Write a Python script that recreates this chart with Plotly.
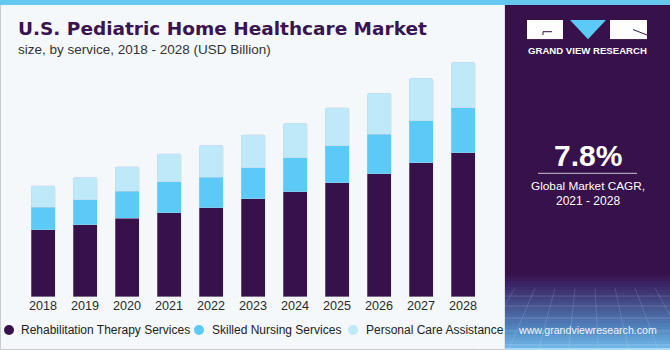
import base64
import plotly.graph_objects as go

# ---------------- data ----------------
years = ["2018", "2019", "2020", "2021", "2022", "2023", "2024", "2025", "2026", "2027", "2028"]
rehab = [3.34, 3.60, 3.92, 4.20, 4.45, 4.89, 5.24, 5.70, 6.14, 6.70, 7.19]
nursing = [1.14, 1.24, 1.35, 1.55, 1.52, 1.57, 1.70, 1.84, 1.99, 2.10, 2.25]
personal = [1.07, 1.14, 1.23, 1.40, 1.60, 1.64, 1.74, 1.90, 2.05, 2.12, 2.29]
series_names = ["Rehabilitation Therapy Services", "Skilled Nursing Services", "Personal Care Assistance"]
colors = ["#37114A", "#5BCAF6", "#BEE9F9"]
cagr_text = "7.8%"
cagr_label = "Global Market CAGR,"
cagr_period = "2021 - 2028"

W, H = 670, 350


def px(x):
    return x / W


def py(y):
    return 1 - y / H


FONT = "Liberation Sans, Arial, sans-serif"
BG = "#F4F8FB"
PURPLE = "#37114A"

fig = go.Figure()
for vals, name, col in zip([rehab, nursing, personal], series_names, colors):
    fig.add_trace(go.Bar(
        x=years, y=vals, name=name, marker_color=col,
        marker_line=dict(width=0.6, color="rgba(200,205,225,0.55)"),
        showlegend=False, hoverinfo="x+y+name",
    ))

shapes = []
annotations = []

# outer border of left area
shapes.append(dict(type="rect", xref="paper", yref="paper", x0=px(0.5), x1=px(505), y0=py(349.5), y1=py(0),
                   line=dict(color="#C9CBCF", width=1), fillcolor=BG, layer="below"))

# right panel
shapes.append(dict(type="rect", xref="paper", yref="paper", x0=px(505), x1=1, y0=0, y1=1,
                   line=dict(width=0), fillcolor=PURPLE, layer="below"))


# gradient at bottom of the panel
def lerp(c1, c2, t):
    a = [int(c1[i:i + 2], 16) for i in (1, 3, 5)]
    b = [int(c2[i:i + 2], 16) for i in (1, 3, 5)]
    return "rgb(%d,%d,%d)" % tuple(round(a[k] + (b[k] - a[k]) * t) for k in range(3))


stops = [(272, "#37114A"), (286, "#3C2A6C"), (305, "#46558F"), (325, "#5080BC"), (348, "#72BCEB")]
y = 272
step = 3
while y < 348:
    for (y0, c0), (y1, c1) in zip(stops[:-1], stops[1:]):
        if y0 <= y < y1:
            col = lerp(c0, c1, (y - y0) / (y1 - y0))
            break
    shapes.append(dict(type="rect", xref="paper", yref="paper", x0=px(505), x1=1, y0=py(y + step), y1=py(y),
                       line=dict(width=0), fillcolor=col, layer="below"))
    y += step
# faint grid lines in the gradient
for gy in [296, 306, 318, 331, 345]:
    shapes.append(dict(type="line", xref="paper", yref="paper", x0=px(505), x1=1, y0=py(gy), y1=py(gy),
                       line=dict(color="rgba(255,255,255,0.16)", width=1), layer="below"))
for gx in [515, 535, 555, 575, 595, 615, 635, 655]:
    shapes.append(dict(type="line", xref="paper", yref="paper", x0=px(gx), x1=px(gx + (gx - 588) * 0.5),
                       y0=py(288), y1=py(350),
                       line=dict(color="rgba(255,255,255,0.14)", width=1), layer="below"))
shapes.append(dict(type="rect", xref="paper", yref="paper", x0=px(505), x1=1, y0=0, y1=py(348),
                   line=dict(width=0), fillcolor="#A8D8F2", layer="below"))

# top strip
shapes.append(dict(type="rect", xref="paper", yref="paper", x0=0, x1=1, y0=py(5), y1=1,
                   line=dict(width=0), fillcolor="#66C8EF", layer="below"))

# logo as an inline SVG image
logo_svg = (
    '<svg xmlns="http://www.w3.org/2000/svg" width="120" height="19.3" viewBox="0 0 120 19.3">'
    '<rect x="0" y="0" width="36" height="19.3" fill="#FFFFFF"/>'
    '<polygon points="43,0 79,0 61,19.3" fill="#5BCAF6"/>'
    '<rect x="83" y="0" width="37" height="19.3" fill="#FFFFFF"/>'
    '<polyline points="16,15 16,11.7 25,11.7" fill="none" stroke="#37114A" stroke-width="1"/>'
    '<line x1="106" y1="9.5" x2="120" y2="15" stroke="#37114A" stroke-width="1"/>'
    '</svg>'
)
logo_src = "data:image/svg+xml;base64," + base64.b64encode(logo_svg.encode()).decode()

# line under CAGR
shapes.append(dict(type="line", xref="paper", yref="paper", x0=px(538), x1=px(637), y0=py(173.3), y1=py(173.3),
                   line=dict(color="rgba(255,255,255,0.75)", width=1)))

# legend (custom)
leg_marker_x = [9, 199, 353]
leg_text_x = [19, 210, 364]
for mx, tx, name, col in zip(leg_marker_x, leg_text_x, series_names, colors):
    shapes.append(dict(type="circle", xref="paper", yref="paper", x0=px(mx - 5), x1=px(mx + 5),
                       y0=py(330 + 5), y1=py(330 - 5), line=dict(width=0), fillcolor=col))
    annotations.append(dict(text=name, x=px(tx), y=py(330), xref="paper", yref="paper", xanchor="left",
                            yanchor="middle", showarrow=False, font=dict(family=FONT, size=12, color="#222222")))

# titles
annotations.append(dict(text="<b>U.S. Pediatric Home Healthcare Market</b>", x=px(16), y=py(29), xref="paper",
                        yref="paper", xanchor="left", yanchor="middle", showarrow=False,
                        font=dict(family="DejaVu Sans", size=18.5, color="#3A1450")))
annotations.append(dict(text="size, by service, 2018 - 2028 (USD Billion)", x=px(16), y=py(49.5), xref="paper",
                        yref="paper", xanchor="left", yanchor="middle", showarrow=False,
                        font=dict(family=FONT, size=13.5, color="#333333")))

# panel texts
annotations.append(dict(text="<b>GRAND VIEW RESEARCH</b>", x=px(587), y=py(50.7), xref="paper", yref="paper",
                        xanchor="center", yanchor="middle", showarrow=False,
                        font=dict(family=FONT, size=9.6, color="white")))
annotations.append(dict(text="<b>%s</b>" % cagr_text, x=px(588), y=py(155), xref="paper", yref="paper",
                        xanchor="center", yanchor="middle", showarrow=False,
                        font=dict(family=FONT, size=30, color="white")))
annotations.append(dict(text=cagr_label, x=px(588), y=py(185.7), xref="paper", yref="paper",
                        xanchor="center", yanchor="middle", showarrow=False,
                        font=dict(family=FONT, size=11.8, color="white")))
annotations.append(dict(text=cagr_period, x=px(588), y=py(201), xref="paper", yref="paper",
                        xanchor="center", yanchor="middle", showarrow=False,
                        font=dict(family=FONT, size=12, color="white")))
annotations.append(dict(text="www.grandviewresearch.com", x=px(587.5), y=py(330), xref="paper", yref="paper",
                        xanchor="center", yanchor="middle", showarrow=False,
                        font=dict(family=FONT, size=10.6, color="rgba(255,255,255,0.92)")))

fig.update_layout(
    width=W, height=H, autosize=False,
    margin=dict(l=0, r=0, t=0, b=0, pad=0),
    paper_bgcolor=BG, plot_bgcolor="rgba(0,0,0,0)",
    barmode="stack", bargap=1 - 24 / 42, barcornerradius=2,
    shapes=shapes, annotations=annotations,
    images=[dict(source=logo_src, xref="paper", yref="paper", x=px(527), y=py(20), sizex=px(120) - px(0),
                 sizey=19.3 / H, xanchor="left", yanchor="top", sizing="stretch", layer="above")],
    xaxis=dict(domain=[px(22), px(484)], range=[-0.5, 10.5], type="category", showgrid=False, zeroline=False,
               showline=False, ticks="", tickfont=dict(family=FONT, size=12.6, color="#2A2A2A"), fixedrange=True),
    yaxis=dict(domain=[py(296.7), py(60)], range=[0, 236.7 / 20], showgrid=False, zeroline=False,
               showline=False, showticklabels=False, fixedrange=True),
)

fig.write_html("out.html")
